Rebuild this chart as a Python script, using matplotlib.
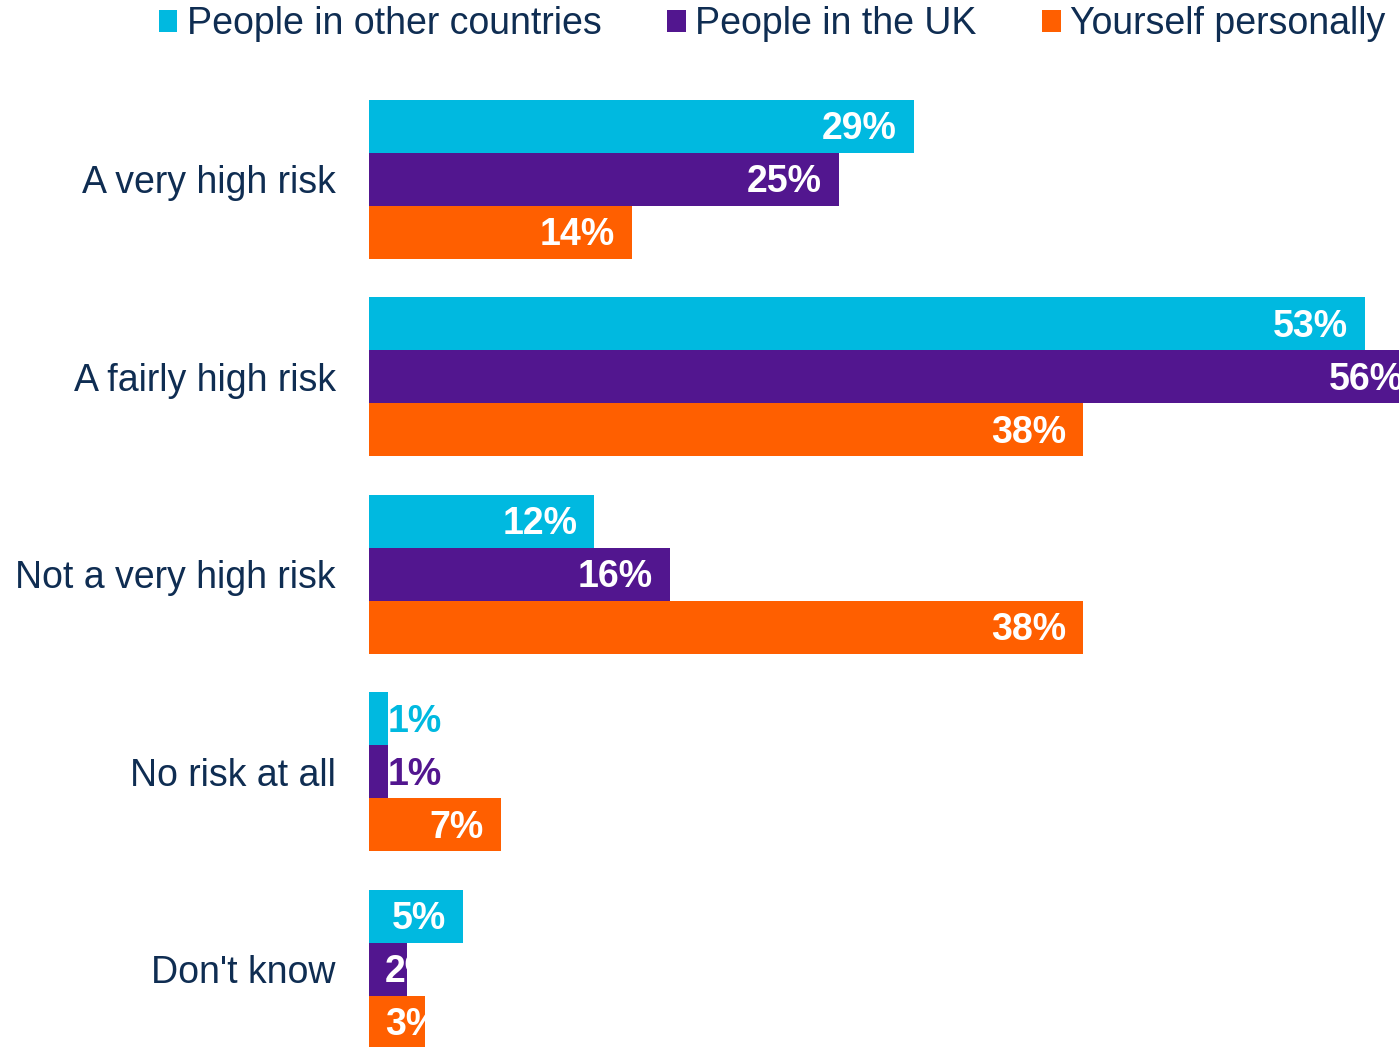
import matplotlib
matplotlib.use("Agg")
import matplotlib.pyplot as plt
from matplotlib.patches import Patch
import numpy as np

categories = ["A very high risk", "A fairly high risk", "Not a very high risk",
              "No risk at all", "Don't know"]
series_names = ["People in other countries", "People in the UK", "Yourself personally"]
other_countries = [29, 53, 12, 1, 5]
uk = [25, 56, 16, 1, 2]
personally = [14, 38, 38, 7, 3]
colors = ["#00B9E0", "#52168F", "#FF5F00"]
text_color = "#0F2D52"

plt.rcParams['font.family'] = ['Liberation Sans', 'DejaVu Sans']

fig = plt.figure(figsize=(13.99, 10.47), dpi=100)
W, H = 1399, 1047
# axes spans from the bar base to the right edge, full height
ax = fig.add_axes([369 / W, 0, 1 - 369 / W, 1])

pitch = 197.5
bar_h = 53 / pitch
y0 = np.arange(len(categories))
values = [other_countries, uk, personally]
offsets = [-bar_h, 0, bar_h]

bars = []
for vals, off, col in zip(values, offsets, colors):
    b = ax.barh(y0 + off, vals, height=bar_h, color=col, edgecolor='none')
    bars.append(b)

ax.set_xlim(0, (W - 369) / 18.79)
ax.set_ylim((H - 179.5) / pitch, -179.5 / pitch)

ax.set_yticks(y0)
ax.set_yticklabels(categories, fontsize=27, color=text_color)
ax.tick_params(axis='y', length=0, pad=24)
ax.set_xticks([])
for s in ax.spines.values():
    s.set_visible(False)

fig.canvas.draw()
renderer = fig.canvas.get_renderer()
base_px = ax.transData.transform((0, 0))[0]

lbl = dict(va='center', fontsize=27, fontweight='bold',
           textcoords='offset pixels', annotation_clip=False)
for vals, off, col, bc in zip(values, offsets, colors, bars):
    for yi, v, patch in zip(y0, vals, bc.patches):
        yy = yi + off
        label = f"{v}%"
        if v < 2:
            # tiny bars: label sits just outside, in the series colour
            ax.annotate(label, (v, yy), xytext=(0, -3), ha='left', color=col, **lbl)
            continue
        t = ax.annotate(label, (v, yy), xytext=(-17, -3), ha='right',
                        color='white', **lbl)
        bb = t.get_window_extent(renderer)
        if bb.x0 < base_px + 16:
            t.remove()
            t = ax.annotate(label, (0, yy), xytext=(16, -3), ha='left',
                            color='white', **lbl)
        t.set_clip_path(patch)

handles = [Patch(facecolor=c, edgecolor='none') for c in colors]
fig.legend(handles, series_names, loc='upper center', bbox_to_anchor=(0.552, 1.012),
           ncol=3, frameon=False, fontsize=27, labelcolor=text_color,
           handlelength=0.5, handleheight=0.5, handletextpad=0.25,
           columnspacing=1.75, borderpad=0)

fig.savefig("out.png", dpi=100)
